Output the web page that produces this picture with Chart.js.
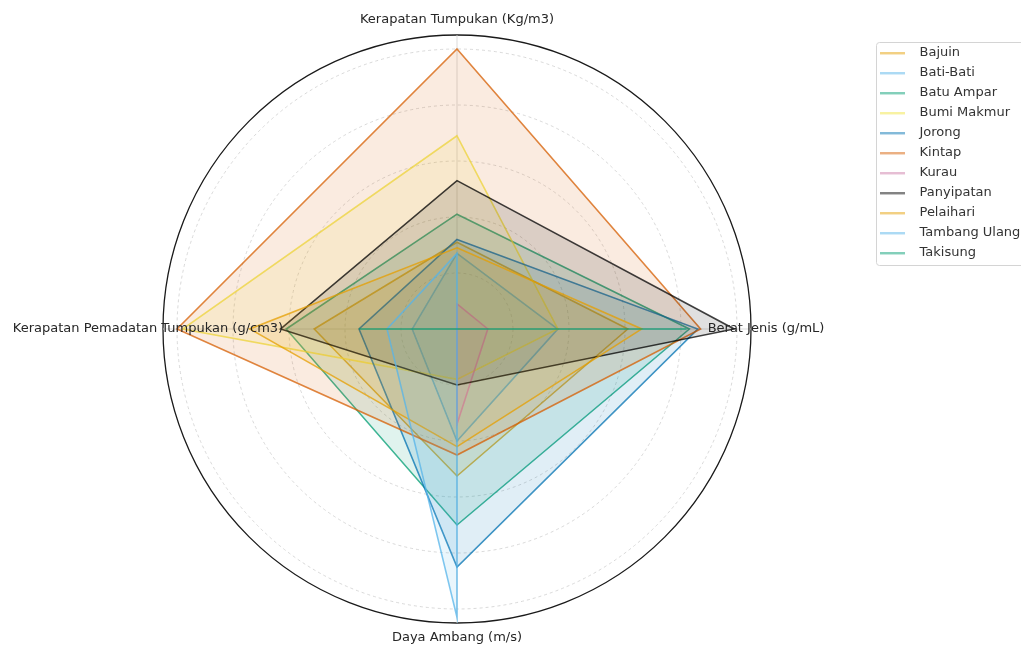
<!DOCTYPE html>
<html>
<head>
<meta charset="utf-8">
<script src="https://cdn.jsdelivr.net/npm/chart.js@4.4.1/dist/chart.umd.min.js"></script>
<style>
html,body{margin:0;padding:0;background:#fff;overflow:hidden}
#wrap{position:relative;width:1021px;height:646px}
</style>
</head>
<body>
<div id="wrap"><canvas id="c" width="1021" height="646"></canvas></div>
<script>
// ---- data ----
const categories = ['Kerapatan Tumpukan (Kg/m3)', 'Berat Jenis (g/mL)', 'Daya Ambang (m/s)', 'Kerapatan Pemadatan Tumpukan (g/cm3)'];
const regions = ['Bajuin', 'Bati-Bati', 'Batu Ampar', 'Bumi Makmur', 'Jorong', 'Kintap', 'Kurau', 'Panyipatan', 'Pelaihari', 'Tambang Ulang', 'Takisung'];
const bajuin       = [0.31, 0.61, 0.525, 0.51];
const batiBati     = [0.27, 0.36, 0.40, 0.16];
const batuAmpar    = [0.41, 0.83, 0.70, 0.61];
const bumiMakmur   = [0.69, 0.36, 0.18, 0.98];
const jorong       = [0.32, 0.86, 0.85, 0.35];
const kintap       = [1.00, 0.87, 0.45, 1.00];
const kurau        = [0.09, 0.11, 0.34, 0.00];
const panyipatan   = [0.53, 0.99, 0.20, 0.63];
const pelaihari    = [0.29, 0.66, 0.42, 0.74];
const tambangUlang = [0.27, 0.00, 1.03, 0.25];
const takisung     = [0.00, 0.82, 0.00, 0.35];
const ringTicks = [0, 0.2, 0.4, 0.6, 0.8, 1.0];
const axisMax = 1.05;

const seriesValues = [bajuin, batiBati, batuAmpar, bumiMakmur, jorong, kintap, kurau, panyipatan, pelaihari, tambangUlang, takisung];
const palette = ['#E69F00', '#56B4E9', '#009E73', '#F0E442', '#0072B2', '#D55E00', '#CC79A7', '#000000', '#E69F00', '#56B4E9', '#009E73'];

function rgba(hex, a) {
  const n = parseInt(hex.slice(1), 16);
  return 'rgba(' + ((n >> 16) & 255) + ',' + ((n >> 8) & 255) + ',' + (n & 255) + ',' + a + ')';
}
function swatch(color) {
  const c = document.createElement('canvas');
  c.width = 33; c.height = 3;
  const g = c.getContext('2d');
  g.strokeStyle = color; g.lineWidth = 1.6;
  g.beginPath(); g.moveTo(0, 1.5); g.lineTo(25, 1.5); g.stroke();
  return c;
}

Chart.defaults.font.family = '"DejaVu Sans", sans-serif';

const axisTitles = {
  id: 'axisTitles',
  afterDatasetsDraw(chart) {
    const s = chart.scales.r, ctx = chart.ctx;
    ctx.save();
    ctx.font = '13px "DejaVu Sans"';
    ctx.fillStyle = '#262626';
    ctx.textAlign = 'center';
    ctx.textBaseline = 'middle';
    chart.data.labels.forEach((lab, i) => {
      const p = s.getPointPosition(i, s.drawingArea + 15);
      ctx.fillText(lab, p.x, p.y);
    });
    ctx.restore();
  }
};
const legendFrame = {
  id: 'legendFrame',
  beforeDraw(chart) {
    const lg = chart.legend, hb = lg.legendHitBoxes;
    if (!hb || !hb.length) return;
    const x0 = lg.left + 3.5, y0 = hb[0].top - 4, y1 = hb[hb.length - 1].top + hb[hb.length - 1].height + 6;
    const x1 = chart.width + 10, r = 3;
    const ctx = chart.ctx;
    ctx.save();
    ctx.beginPath();
    ctx.moveTo(x0 + r, y0); ctx.lineTo(x1, y0); ctx.lineTo(x1, y1); ctx.lineTo(x0 + r, y1);
    ctx.arcTo(x0, y1, x0, y1 - r, r); ctx.lineTo(x0, y0 + r); ctx.arcTo(x0, y0, x0 + r, y0, r);
    ctx.closePath();
    ctx.fillStyle = 'rgba(255,255,255,0.8)'; ctx.fill();
    ctx.strokeStyle = '#d4d4d4'; ctx.lineWidth = 1; ctx.stroke();
    ctx.restore();
  }
};

const chart = new Chart(document.getElementById('c'), {
  type: 'radar',
  data: {
    labels: categories,
    datasets: regions.map((name, i) => ({
      label: name,
      data: seriesValues[i],
      borderColor: rgba(palette[i], 0.75),
      backgroundColor: rgba(palette[i], 0.12),
      borderWidth: 1.6,
      pointRadius: 0,
      pointHoverRadius: 0,
      fill: true,
      tension: 0,
      order: regions.length - i
    }))
  },
  options: {
    responsive: false,
    animation: false,
    layout: { padding: { left: 41, top: 35, bottom: 23, right: 0 } },
    plugins: {
      tooltip: { enabled: false },
      legend: {
        position: 'right',
        align: 'start',
        maxWidth: 148,
        title: { display: true, text: '', font: { size: 1, lineHeight: 1 }, padding: { top: 3.5, bottom: 0 } },
        labels: {
          usePointStyle: true,
          pointStyleWidth: 33,
          padding: 7,
          color: '#333',
          font: { size: 13 },
          generateLabels(ch) {
            return ch.data.datasets.map((ds, i) => ({
              text: ds.label,
              fillStyle: ds.borderColor,
              strokeStyle: ds.borderColor,
              lineWidth: 0,
              pointStyle: swatch(ds.borderColor),
              fontColor: '#333',
              hidden: false,
              datasetIndex: i
            }));
          }
        }
      }
    },
    scales: {
      r: {
        min: 0,
        max: axisMax,
        startAngle: 0,
        ticks: { display: false, stepSize: 0.2 },
        afterBuildTicks(scale) {
          scale.ticks = ringTicks.concat([axisMax]).map(v => ({ value: v }));
        },
        grid: {
          circular: true,
          color: (c) => (c.tick && c.tick.value >= axisMax - 1e-9) ? '#1a1a1a' : '#cfcfcf',
          lineWidth: (c) => (c.tick && c.tick.value >= axisMax - 1e-9) ? 1.3 : 0.8
        },
        border: {
          dash: (c) => (c.tick && c.tick.value >= axisMax - 1e-9) ? [] : [3, 3]
        },
        angleLines: { color: '#d2d2d2', lineWidth: 0.8 },
        pointLabels: { display: false }
      }
    }
  },
  plugins: [legendFrame, axisTitles]
});
</script>
</body>
</html>
